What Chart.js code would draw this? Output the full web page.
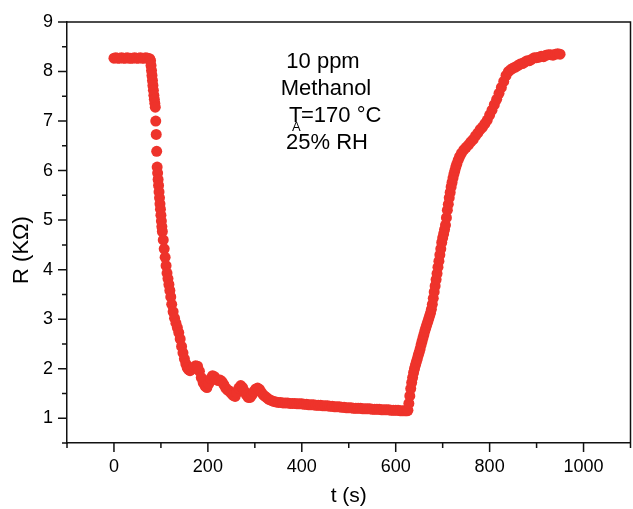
<!DOCTYPE html>
<html><head><meta charset="utf-8">
<script src="https://cdn.jsdelivr.net/npm/chart.js@4.4.1/dist/chart.umd.min.js"></script>
<style>html,body{margin:0;padding:0;background:#fff;overflow:hidden;}canvas{display:block;}</style>
</head><body>
<canvas id="c" width="636" height="509"></canvas>
<script>
// ---- data ----
const timeS = [
 0,4,8,12,16,20,24,28,32,36,40,44,48,52,56,60,64,68,72,76,
 78,79,80,81,82,83,84,85,86,87,88,89,90,91,92,93,94,95,96,97,98,99,100,101,102,103,105,107,109,111,113,115,117,119,121,123,126,129,132,135,138,141,144,147,150,153,156,159,162,166,170,174,178,
 182,186,190,194,198,202,206,210,214,218,222,226,230,234,238,242,246,250,254,258,262,266,270,274,278,282,286,290,294,298,302,306,310,314,318,322,326,330,335,340,345,
 350,355,360,365,370,375,380,385,390,395,400,405,410,415,420,425,430,435,440,445,450,455,460,465,470,475,480,485,490,495,500,505,510,515,520,525,530,535,540,545,550,555,560,565,570,575,580,585,590,595,600,605,610,615,620,624,
 626,628,630,632,634,636,638,640,642,644,646,648,650,652,654,656,658,660,662,664,666,668,670,672,674,676,678,680,682,684,686,688,690,692,694,696,698,700,702,704,706,708,710,712,714,716,718,720,722,724,726,728,730,733,736,740,
 745,750,755,760,765,770,775,780,785,790,795,800,805,810,815,820,825,830,835,840,845,850,855,860,865,870,875,880,885,890,895,900,905,910,915,920,925,930,935,940,945,950
];
const resistanceK = [
 8.27,8.28,8.27,8.27,8.28,8.27,8.27,8.28,8.27,8.27,8.27,8.28,8.27,8.27,8.28,8.27,8.27,8.28,8.27,8.26,
 8.22,8.12,8.02,7.92,7.82,7.72,7.62,7.52,7.44,7.36,7.28,7.0,6.73,6.39,6.07,5.95,5.82,5.7,5.57,5.45,5.33,5.22,5.1,4.98,4.87,4.77,4.6,4.42,4.25,4.08,3.93,3.82,3.7,3.58,3.45,3.3,3.15,3.02,2.92,2.83,2.73,2.6,2.45,2.32,2.2,2.1,2.02,1.98,1.96,1.99,2.03,2.06,2.05,
 1.95,1.82,1.72,1.65,1.62,1.70,1.80,1.86,1.84,1.78,1.76,1.77,1.74,1.68,1.61,1.57,1.55,1.50,1.46,1.44,1.52,1.61,1.66,1.62,1.54,1.47,1.42,1.42,1.47,1.54,1.59,1.61,1.58,1.52,1.47,1.44,1.41,1.38,1.36,1.34,1.33,
 1.32,1.32,1.31,1.31,1.31,1.30,1.30,1.30,1.29,1.29,1.29,1.28,1.28,1.27,1.27,1.27,1.26,1.26,1.26,1.25,1.25,1.25,1.24,1.24,1.23,1.23,1.23,1.22,1.22,1.21,1.21,1.21,1.20,1.20,1.20,1.20,1.19,1.19,1.19,1.19,1.18,1.18,1.18,1.18,1.17,1.17,1.17,1.17,1.16,1.16,1.16,1.16,1.15,1.15,1.15,1.15,
 1.16,1.3,1.45,1.6,1.72,1.82,1.92,2.0,2.07,2.14,2.2,2.27,2.33,2.4,2.48,2.55,2.62,2.69,2.76,2.82,2.88,2.94,3.0,3.06,3.12,3.2,3.3,3.42,3.55,3.67,3.8,3.92,4.05,4.17,4.3,4.42,4.55,4.64,4.72,4.81,4.9,5.05,5.2,5.32,5.45,5.56,5.67,5.76,5.85,5.93,6.0,6.07,6.13,6.21,6.28,6.35,
 6.42,6.47,6.52,6.58,6.63,6.70,6.76,6.83,6.88,6.95,7.02,7.12,7.22,7.33,7.44,7.56,7.68,7.8,7.92,8.0,8.04,8.07,8.09,8.12,8.15,8.16,8.19,8.22,8.22,8.25,8.28,8.28,8.29,8.31,8.30,8.33,8.34,8.34,8.33,8.35,8.36,8.35
];
const xTickLabels = [0, 200, 400, 600, 800, 1000];
const yTickLabels = [1, 2, 3, 4, 5, 6, 7, 8, 9];
const annotationText = ['10 ppm', 'Methanol', 'T', 'A', '=170 °C', '25% RH'];
const xTitle = 't (s)';
const yTitle = 'R (KΩ)';

const FONT = "'Liberation Sans', Arial, Helvetica, sans-serif";
const RED = 'rgb(238,51,43)';

const points = timeS.map((t, i) => ({ x: t, y: resistanceK[i] }));

const framePlugin = {
  id: 'frame',
  afterDraw(chart) {
    const { ctx, chartArea: a, scales: { x, y } } = chart;
    ctx.save();
    ctx.strokeStyle = '#111';
    ctx.lineWidth = 1.5;
    ctx.beginPath();
    ctx.moveTo(a.left, a.top); ctx.lineTo(a.right, a.top); ctx.lineTo(a.right, a.bottom);
    x.ticks.forEach(t => {
      const px = x.getPixelForValue(t.value);
      const len = xTickLabels.includes(t.value) ? 9 : 5;
      ctx.moveTo(px, a.bottom); ctx.lineTo(px, a.bottom + len);
    });
    y.ticks.forEach(t => {
      const py = y.getPixelForValue(t.value);
      const len = yTickLabels.includes(t.value) ? 9 : 5;
      ctx.moveTo(a.left, py); ctx.lineTo(a.left - len, py);
    });
    ctx.stroke();

    ctx.fillStyle = '#000';
    ctx.textBaseline = 'alphabetic';
    ctx.font = '22px ' + FONT;
    ctx.textAlign = 'center';
    ctx.fillText(annotationText[0], 323, 68);
    ctx.fillText(annotationText[1], 326, 95);
    ctx.fillText(annotationText[5], 327, 149);
    ctx.textAlign = 'left';
    ctx.fillText(annotationText[2], 289, 122);
    ctx.fillText(annotationText[4], 301, 122);
    ctx.font = '13px ' + FONT;
    ctx.fillText(annotationText[3], 292, 131);

    ctx.translate(22, 250);
    ctx.rotate(-Math.PI / 2);
    ctx.font = '22px ' + FONT;
    ctx.textAlign = 'center';
    ctx.textBaseline = 'middle';
    ctx.fillText(yTitle, 0, 0);
    ctx.restore();
  }
};

new Chart(document.getElementById('c'), {
  type: 'scatter',
  data: { datasets: [{ data: points, backgroundColor: RED, borderColor: RED, borderWidth: 0, pointRadius: 5.5, pointHoverRadius: 5.5 }] },
  options: {
    responsive: false,
    devicePixelRatio: 1,
    animation: false,
    layout: { padding: { top: 22, right: 1.5, left: 0, bottom: 0 } },
    plugins: { legend: { display: false }, tooltip: { enabled: false } },
    scales: {
      x: {
        type: 'linear', min: -100, max: 1100,
        afterFit: s => { s.height = 66; },
        grid: { display: true, drawOnChartArea: false, drawTicks: true, tickLength: 9, tickColor: 'rgba(0,0,0,0)' },
        border: { display: true, color: '#111', width: 1.5 },
        ticks: { stepSize: 100, autoSkip: false, maxRotation: 0, padding: 4, color: '#000',
          font: { family: FONT, size: 18 },
          callback: v => xTickLabels.includes(v) ? String(v) : '' },
        title: { display: true, text: xTitle, color: '#000', font: { family: FONT, size: 21 }, padding: { top: 0, bottom: 0 } }
      },
      y: {
        type: 'linear', min: 0.5, max: 9,
        afterFit: s => { s.width = 67; },
        grid: { display: true, drawOnChartArea: false, drawTicks: true, tickLength: 9, tickColor: 'rgba(0,0,0,0)' },
        border: { display: true, color: '#111', width: 1.5 },
        ticks: { stepSize: 0.5, autoSkip: false, padding: 5, color: '#000',
          font: { family: FONT, size: 18 },
          callback: v => yTickLabels.includes(v) ? String(v) : '' },
        title: { display: false }
      }
    }
  },
  plugins: [framePlugin]
});
</script>
</body></html>
